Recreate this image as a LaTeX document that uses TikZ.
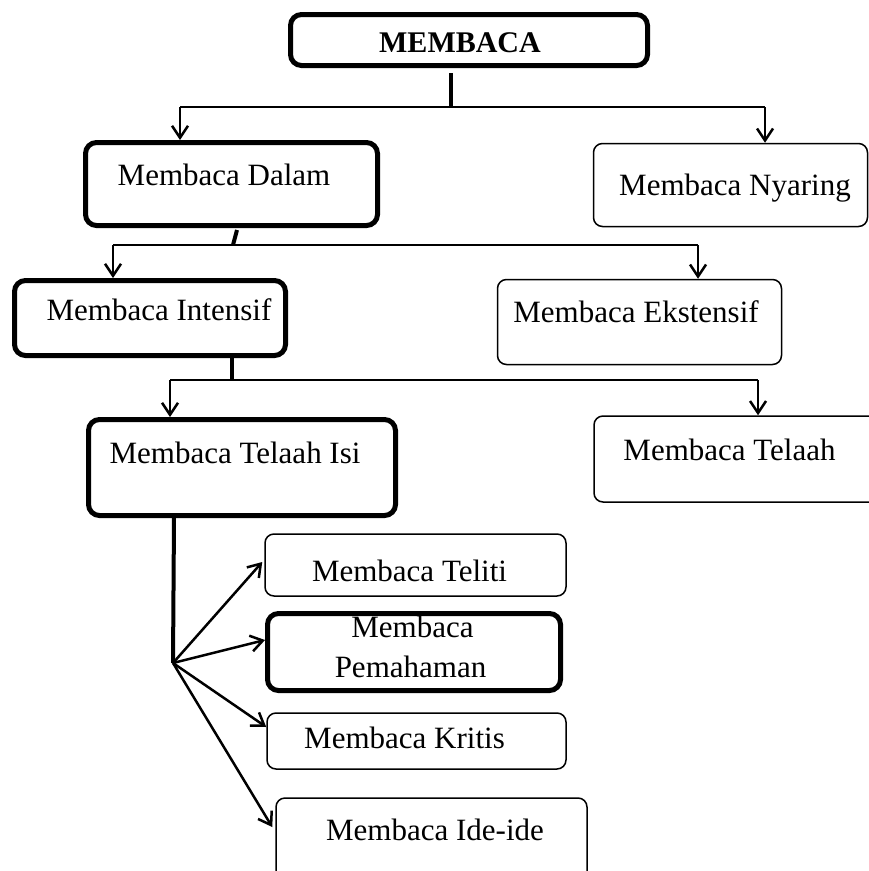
\documentclass[tikz,border=0pt]{standalone}
\usepackage{fontspec}
\setmainfont{Liberation Serif}
\usetikzlibrary{arrows.meta}
\begin{document}
\begin{tikzpicture}[x=1pt,y=-1pt,
  thickbox/.style={draw, line width=5pt, rounded corners=11pt, inner sep=0pt},
  thinbox/.style={draw, line width=1.5pt, rounded corners=9pt, inner sep=0pt},
  lbl/.style={anchor=base, inner sep=0pt, font=\fontsize{31}{40}\selectfont},
  conn/.style={line width=2.5pt},
  stub/.style={line width=4pt},
  arr/.style={line width=2.5pt, -{Straight Barb[length=12pt,width=16pt]}},
]
\clip (0,0) rectangle (869,871);
% boxes
\node[thickbox, minimum width=357pt, minimum height=51pt] (membaca) at (469,40) {};
\node[thickbox, minimum width=292pt, minimum height=83pt] (dalam) at (231.5,184) {};
\node[thinbox, minimum width=274pt, minimum height=83pt] (nyaring) at (730.5,185) {};
\node[thickbox, minimum width=271pt, minimum height=75pt] (intensif) at (150,318) {};
\node[thinbox, minimum width=284pt, minimum height=85pt] (ekstensif) at (639.5,322) {};
\node[thickbox, minimum width=307pt, minimum height=96pt] (telaahisi) at (242,467.5) {};
\node[thinbox, minimum width=290pt, minimum height=86pt] (telaah) at (739,459) {};
\node[thinbox, minimum width=301pt, minimum height=62pt] (teliti) at (415.5,565) {};
\node[thickbox, minimum width=293pt, minimum height=77pt] (pema) at (414,652) {};
\node[thinbox, minimum width=299pt, minimum height=56pt] (kritis) at (416.5,741) {};
\node[thinbox, minimum width=311pt, minimum height=104pt] (ide) at (431.5,850) {};
% labels
\node[lbl, font=\fontsize{30}{40}\selectfont\bfseries] (tmembaca) at (460,52) {MEMBACA};
\node[lbl] (tdalam) at (224,185) {Membaca Dalam};
\node[lbl] (tnyaring) at (735,195) {Membaca Nyaring};
\node[lbl] (tintensif) at (159,320) {Membaca Intensif};
\node[lbl] (tekstensif) at (636,322) {Membaca Ekstensif};
\node[lbl] (ttelaahisi) at (235,463) {Membaca Telaah Isi};
\node[lbl] (ttelaah) at (729.5,460) {Membaca Telaah};
\node[lbl] (tteliti) at (409.5,581) {Membaca Teliti};
\node[lbl] (tpema1) at (412.5,637) {Membaca};
\node[lbl] (tpema2) at (410.5,677) {Pemahaman};
\node[lbl] (tkritis) at (404.5,748) {Membaca Kritis};
\node[lbl] (tide) at (435,840) {Membaca Ide-ide};
% junction coordinates
\coordinate (s1) at (451,73);
\coordinate (j1) at (451,107);
\coordinate (l1) at (180,107);
\coordinate (r1) at (765,107);
\coordinate (s2) at (237,230);
\coordinate (j2) at (233,245);
\coordinate (l2) at (113,245);
\coordinate (r2) at (698,245);
\coordinate (s3) at (232,358);
\coordinate (j3) at (232,380);
\coordinate (l3) at (170,380);
\coordinate (r3) at (758,380);
\coordinate (s4) at (174,518);
\coordinate (f) at (173,663);
% connectors level 1
\draw[stub] (s1) -- (j1);
\draw[conn] (l1) -- (r1);
\draw[arr] (l1) -- (l1 |- dalam.north);
\draw[arr] (r1) -- (r1 |- nyaring.north);
% level 2
\draw[stub] (s2) -- (j2);
\draw[conn] (l2) -- (r2);
\draw[arr] (l2) -- (l2 |- intensif.north);
\draw[arr] (r2) -- (r2 |- ekstensif.north);
% level 3
\draw[stub] (s3) -- (j3);
\draw[conn] (l3) -- (r3);
\draw[arr] (l3) -- (l3 |- telaahisi.north);
\draw[arr] (r3) -- (r3 |- telaah.north);
% fan
\draw[stub] (s4) -- (f);
\draw[arr] (f) -- ([xshift=-2pt,yshift=3pt]teliti.west);
\draw[arr] (f) -- ([yshift=12pt]pema.west);
\draw[arr] (f) -- ([yshift=14pt]kritis.west);
\draw[arr] (f) -- ([xshift=-3pt,yshift=23pt]ide.west);
\end{tikzpicture}
\end{document}
